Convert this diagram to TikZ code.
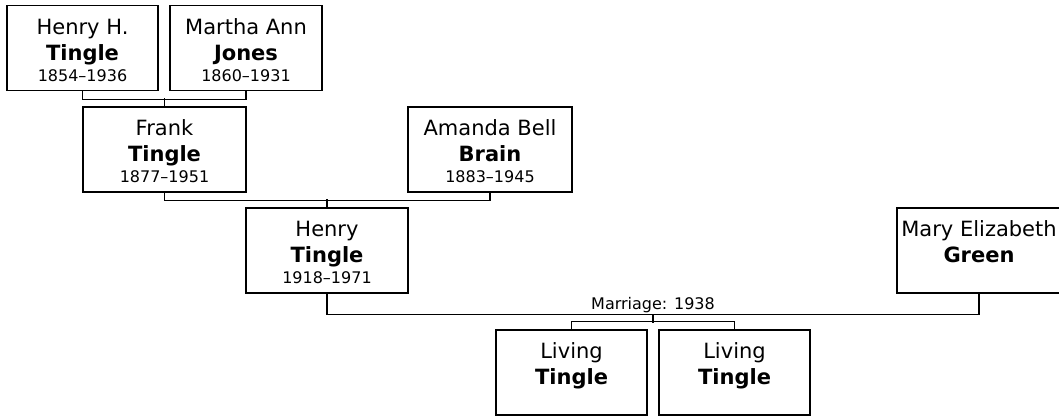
\documentclass[tikz,border=0pt]{standalone}
\usepackage{fontspec}
\setmainfont{DejaVu Sans}
\usetikzlibrary{calc}
\newcommand{\namefont}{\fontsize{21}{26}\selectfont}
\newcommand{\datefont}{\fontsize{16}{21}\selectfont}
\newcommand{\who}[3]{\rule{0pt}{19.5pt}#1\\\textbf{#2}\\[-5pt]{\datefont\mbox{}#3}}
\tikzset{
  person/.style={draw, line width=1.2pt, minimum height=85pt, align=center, inner sep=0pt, font=\namefont},
  famline/.style={line width=1.2pt},
}

\begin{document}
\begin{tikzpicture}[x=1pt,y=-1pt]
	\useasboundingbox (0,0) rectangle (1059,416);
	\clip (0,0) rectangle (1059,416);
    % grandparents
    \node[person, minimum width=151pt] (hht) at (82.5,48) {\who{Henry H.}{Tingle}{1854--1936}};
    \node[person, minimum width=152pt] (maj) at (246,48) {\who{Martha Ann}{Jones}{1860--1931}};
    % parents
    \node[person, minimum width=163pt] (frank) at (164.5,149.5) {\who{Frank}{Tingle}{1877--1951}};
    \node[person, minimum width=164pt] (amanda) at (490,149.5) {\who{Amanda Bell}{Brain}{1883--1945}};
    % couple
    \node[person, minimum width=162pt] (henry) at (327,250.5) {\who{Henry}{Tingle}{1918--1971}};
    \node[person, minimum width=164pt] (mary) at (979,250.5) {\who{Mary Elizabeth}{Green}{}};
    % children
    \node[person, minimum width=151pt] (liv1) at (571.5,372.5) {\who{Living}{Tingle}{}};
    \node[person, minimum width=151pt] (liv2) at (734.5,372.5) {\who{Living}{Tingle}{}};
    % lines
    \draw[famline] (hht.south) -- ++(0,8) -| (maj.south);
    \draw[famline] (frank.north) -- ++(0,-8);
    \draw[famline] (frank.south) -- ++(0,8) -| (amanda.south);
    \draw[famline] (henry.north) -- ++(0,-8);
    \draw[famline] (henry.south) -- ++(0,21) -| coordinate[pos=0.25] (wed)
        node[pos=0.25, above=1.5pt, inner sep=0pt, font=\datefont] {Marriage: 1938} (mary.south);
    \draw[famline] (wed) -- ++(0,8);
    \draw[famline] (liv1.north) -- ++(0,-8) -| (liv2.north);
\end{tikzpicture}
\end{document}
